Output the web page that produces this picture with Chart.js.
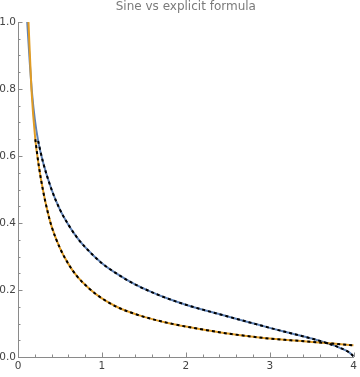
<!DOCTYPE html>
<html>
<head>
<meta charset="utf-8">
<script src="https://cdn.jsdelivr.net/npm/chart.js@4/dist/chart.umd.min.js"></script>
<style>
  html, body { margin: 0; padding: 0; background: #ffffff; }
  #wrap { width: 360px; height: 377px; }
</style>
</head>
<body>
<div id="wrap"><canvas id="c" width="360" height="377"></canvas></div>
<script>
// ---- Data ----
const titleText = "Sine vs explicit formula";

const blueX = [0.11, 0.14, 0.17, 0.20, 0.24, 0.30, 0.40, 0.50, 0.60, 0.70, 0.80, 1.00, 1.20, 1.40, 1.60, 1.80, 2.00, 2.25, 2.50, 2.75, 3.00, 3.25, 3.50, 3.70, 3.85, 3.95, 4.00];
const blueY = [1.00, 0.88, 0.78, 0.71, 0.645, 0.58, 0.50, 0.44, 0.395, 0.358, 0.328, 0.280, 0.245, 0.216, 0.193, 0.173, 0.156, 0.138, 0.121, 0.104, 0.087, 0.071, 0.055, 0.040, 0.026, 0.013, 0.002];

const orangeX = [0.125, 0.16, 0.206, 0.25, 0.30, 0.35, 0.40, 0.50, 0.60, 0.70, 0.85, 1.00, 1.20, 1.40, 1.60, 1.80, 2.00, 2.25, 2.50, 2.75, 3.00, 3.25, 3.50, 3.75, 4.00];
const orangeY = [1.00, 0.80, 0.65, 0.567, 0.495, 0.437, 0.390, 0.325, 0.278, 0.242, 0.204, 0.175, 0.147, 0.128, 0.113, 0.101, 0.091, 0.080, 0.070, 0.062, 0.055, 0.050, 0.045, 0.040, 0.035];

// where the black dashed overlays begin (x)
const blueDashStart = 0.24;
const orangeDashStart = 0.206;

const xTickValues = [0, 1, 2, 3, 4];
const xTickLabels = ["0", "1", "2", "3", "4"];
const yTickValues = [0, 0.2, 0.4, 0.6, 0.8, 1.0];
const yTickLabels = ["0.0", "0.2", "0.4", "0.6", "0.8", "1.0"];
const xMinorStep = 0.2;
const yMinorStep = 0.05;

// ---- build datasets ----
function pts(xs, ys, fromX) {
  const out = [];
  for (let i = 0; i < xs.length; i++) {
    if (fromX === undefined || xs[i] >= fromX - 1e-9) out.push({ x: xs[i], y: ys[i] });
  }
  return out;
}

const BLUE = '#5E81B5';
const ORANGE = '#E19C24';
const AXIS = '#8a8a8a';
const LABEL = '#444444';

const inwardTicks = {
  id: 'inwardTicks',
  afterDraw(chart) {
    const { ctx, scales } = chart;
    const xs = scales.x, ys = scales.y;
    ctx.save();
    ctx.strokeStyle = AXIS;
    ctx.lineWidth = 1;
    const bottom = ys.getPixelForValue(0);
    const left = xs.getPixelForValue(0);
    const xMin = xTickValues[0], xMax = xTickValues[xTickValues.length - 1];
    const nX = Math.round((xMax - xMin) / xMinorStep);
    for (let i = 0; i <= nX; i++) {
      const v = xMin + i * xMinorStep;
      const major = xTickValues.some(t => Math.abs(t - v) < 1e-6);
      const px = Math.round(xs.getPixelForValue(v)) + 0.5;
      ctx.beginPath();
      ctx.moveTo(px, bottom);
      ctx.lineTo(px, bottom - (major ? 4.5 : 2.5));
      ctx.stroke();
    }
    const yMin = yTickValues[0], yMax = yTickValues[yTickValues.length - 1];
    const nY = Math.round((yMax - yMin) / yMinorStep);
    for (let i = 0; i <= nY; i++) {
      const v = yMin + i * yMinorStep;
      const major = yTickValues.some(t => Math.abs(t - v) < 1e-6);
      const py = Math.round(ys.getPixelForValue(v)) + 0.5;
      ctx.beginPath();
      ctx.moveTo(left, py);
      ctx.lineTo(left + (major ? 4.5 : 2.5), py);
      ctx.stroke();
    }
    ctx.restore();
  }
};

const ctx = document.getElementById('c').getContext('2d');
new Chart(ctx, {
  type: 'scatter',
  data: {
    datasets: [
      { label: 'blue', data: pts(blueX, blueY), showLine: true, borderColor: BLUE, borderWidth: 2, pointRadius: 0, cubicInterpolationMode: 'monotone', order: 4, clip: 0 },
      { label: 'orange', data: pts(orangeX, orangeY), showLine: true, borderColor: ORANGE, borderWidth: 2, pointRadius: 0, cubicInterpolationMode: 'monotone', order: 3, clip: 0 },
      { label: 'blueDash', data: pts(blueX, blueY, blueDashStart), showLine: true, borderColor: '#000000', borderWidth: 2, borderDash: [3, 3], pointRadius: 0, cubicInterpolationMode: 'monotone', order: 2, clip: 0 },
      { label: 'orangeDash', data: pts(orangeX, orangeY, orangeDashStart), showLine: true, borderColor: '#000000', borderWidth: 2, borderDash: [3, 3], pointRadius: 0, cubicInterpolationMode: 'monotone', order: 1, clip: 0 }
    ]
  },
  options: {
    responsive: false,
    animation: false,
    devicePixelRatio: 1,
    layout: { padding: { left: 0, right: 4, top: 0, bottom: 0 } },
    plugins: {
      legend: { display: false },
      tooltip: { enabled: false },
      title: {
        display: true,
        text: titleText,
        fullSize: false,
        color: '#7a7a7a',
        font: { family: 'DejaVu Sans', size: 12, weight: 'normal', lineHeight: 1.2 },
        padding: { top: 0, bottom: 7.6 }
      }
    },
    scales: {
      x: {
        type: 'linear',
        min: xTickValues[0],
        max: xTickValues[xTickValues.length - 1],
        afterBuildTicks: s => { s.ticks = xTickValues.map(v => ({ value: v })); },
        afterFit: s => { s.height = 20; },
        grid: { display: true, drawOnChartArea: false, drawTicks: false },
        border: { display: true, color: AXIS, width: 1 },
        ticks: {
          padding: 3,
          color: LABEL,
          maxRotation: 0,
          autoSkip: false,
          font: { family: 'DejaVu Sans', size: 10.5 },
          callback: (v) => { const i = xTickValues.indexOf(v); return i >= 0 ? xTickLabels[i] : ''; }
        }
      },
      y: {
        type: 'linear',
        min: yTickValues[0],
        max: yTickValues[yTickValues.length - 1],
        afterBuildTicks: s => { s.ticks = yTickValues.map(v => ({ value: v })); },
        afterFit: s => { s.width = 18; },
        grid: { display: true, drawOnChartArea: false, drawTicks: false },
        border: { display: true, color: AXIS, width: 1 },
        ticks: {
          padding: 2,
          color: LABEL,
          autoSkip: false,
          font: { family: 'DejaVu Sans', size: 10.5 },
          callback: (v) => { const i = yTickValues.findIndex(t => Math.abs(t - v) < 1e-9); return i >= 0 ? yTickLabels[i] : ''; }
        }
      }
    }
  },
  plugins: [inwardTicks]
});
</script>
</body>
</html>
